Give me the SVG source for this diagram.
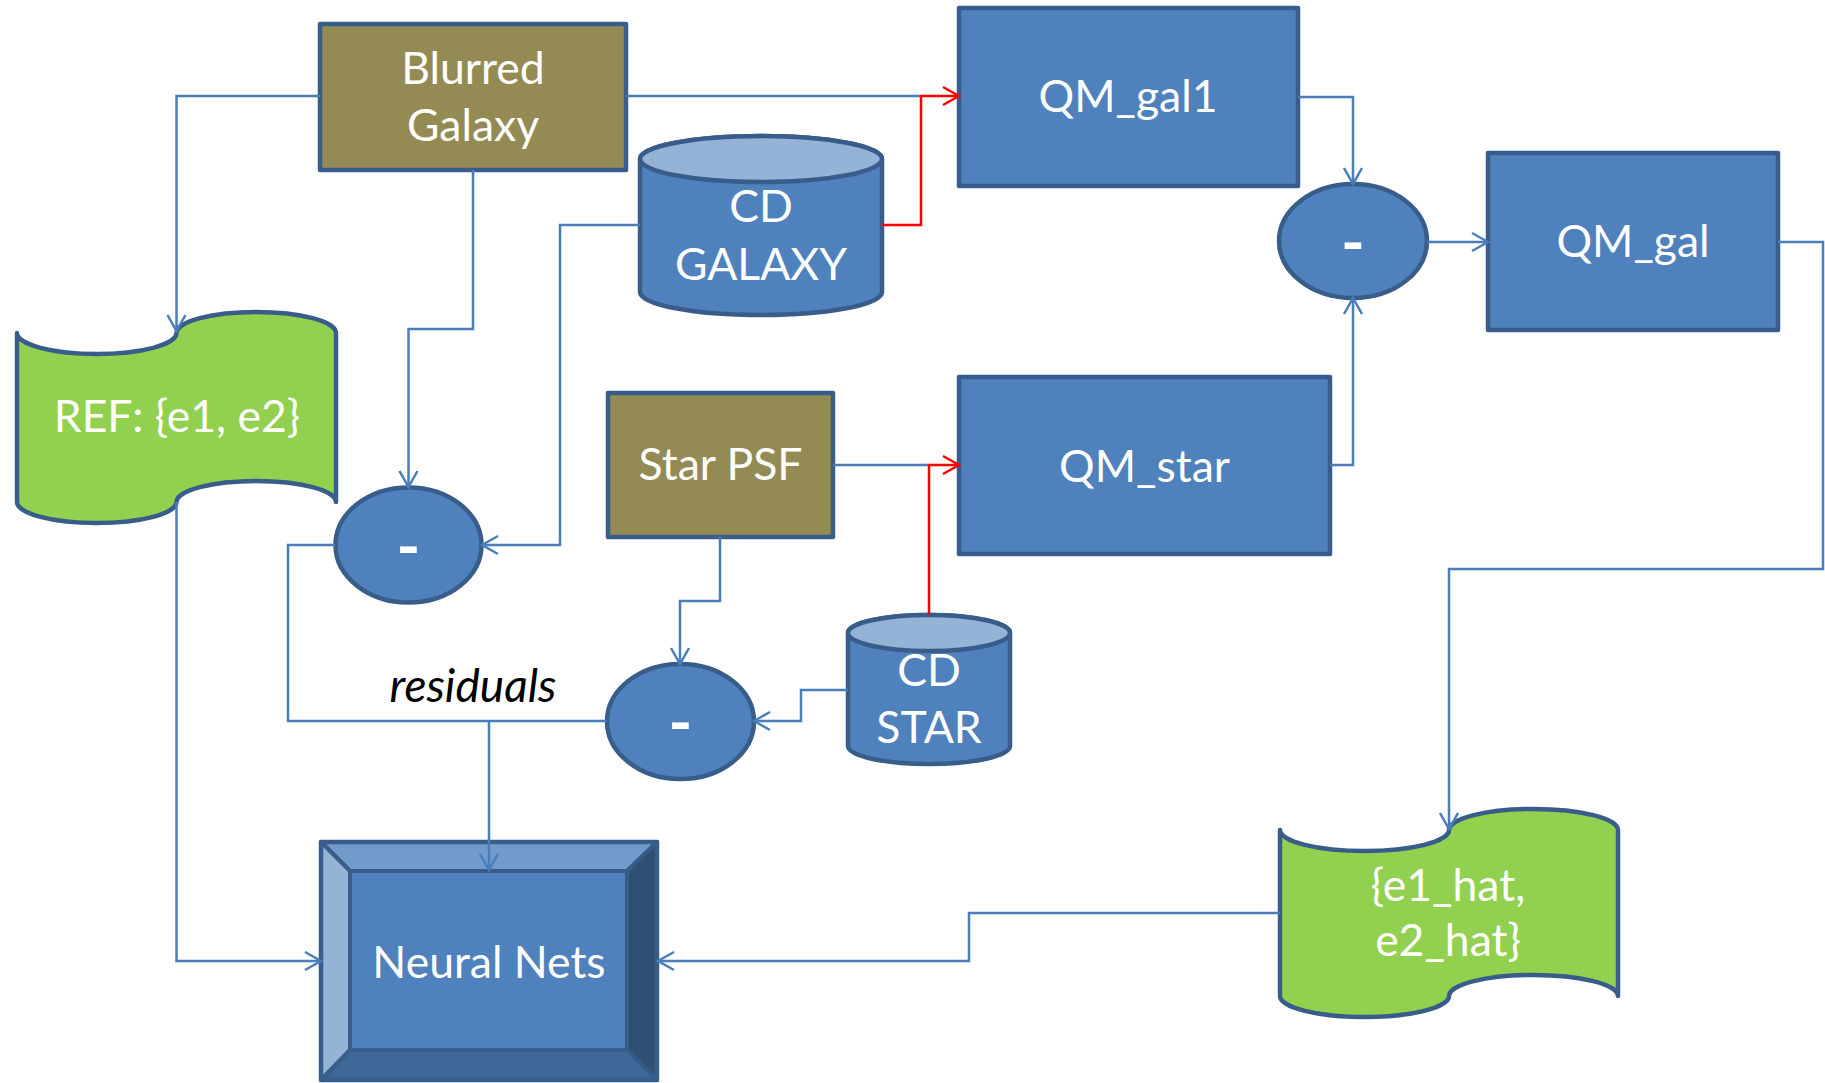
<svg xmlns="http://www.w3.org/2000/svg" width="1825" height="1083" viewBox="0 0 1825 1083">
<style>
.blue{fill:#4F81BD;stroke:#385D8A;stroke-width:4.5;stroke-linejoin:round}
.olive{fill:#948A54;stroke:#385D8A;stroke-width:4.5;stroke-linejoin:round}
.green{fill:#92D050;stroke:#385D8A;stroke-width:4.5;stroke-linejoin:round}
.lid{fill:#95B3D7;stroke:#385D8A;stroke-width:4.5}
.t{font-family:Lato,"Open Sans","Liberation Sans",sans-serif;font-size:44.5px;fill:#FFFFFF;text-anchor:middle}
.m{font-family:Lato,"Liberation Sans",sans-serif;font-size:64px;font-weight:bold;fill:#FFFFFF;text-anchor:middle}
.c{fill:none;stroke:#4A7EBB;stroke-width:2.5}
.r{fill:none;stroke:#FF0000;stroke-width:2.5}
</style>
<defs>
<marker id="ab" markerUnits="userSpaceOnUse" markerWidth="20" markerHeight="22" viewBox="0 0 20 22" refX="18" refY="11" orient="auto">
<path d="M2,2 L18,11 L2,20" fill="none" stroke="#4A7EBB" stroke-width="2.5"/>
</marker>
<marker id="ar" markerUnits="userSpaceOnUse" markerWidth="20" markerHeight="22" viewBox="0 0 20 22" refX="18" refY="11" orient="auto">
<path d="M2,2 L18,11 L2,20" fill="none" stroke="#FF0000" stroke-width="2.5"/>
</marker>
</defs>

<g id="blurred-galaxy">
<rect class="olive" x="320" y="24" width="306" height="146"/>
<text class="t" x="473" y="84">Blurred</text>
<text class="t" x="473" y="141">Galaxy</text>
</g>

<g id="cd-galaxy">
<path class="blue" d="M640,159 V292 A121,23 0 0 0 882,292 V159 A121,23 0 0 0 640,159 Z"/>
<ellipse class="lid" cx="761" cy="159" rx="121" ry="23"/>
<text class="t" x="761" y="222">CD</text>
<text class="t" x="761" y="280">GALAXY</text>
</g>

<g id="qm-gal1">
<rect class="blue" x="959" y="8" width="339" height="178"/>
<text class="t" x="1128" y="112">QM_gal1</text>
</g>

<g id="minus-top">
<ellipse class="blue" cx="1353" cy="241" rx="74" ry="57"/>
<text class="m" x="1353" y="265">-</text>
</g>

<g id="qm-gal">
<rect class="blue" x="1488" y="153" width="290" height="177"/>
<text class="t" x="1633" y="257">QM_gal</text>
</g>

<g id="star-psf">
<rect class="olive" x="608" y="393" width="225" height="144"/>
<text class="t" x="720.5" y="480">Star PSF</text>
</g>

<g id="qm-star">
<rect class="blue" x="959" y="377" width="371" height="177"/>
<text class="t" x="1144.5" y="482">QM_star</text>
</g>

<g id="ref">
<path class="green" d="M17,333 A79.75,21 0 0 0 176.5,333 A79.75,21 0 0 1 336,333 V502 A79.75,21 0 0 0 176.5,502 A79.75,21 0 0 1 17,502 Z"/>
<text class="t" x="177" y="432">REF: {e1, e2}</text>
</g>

<g id="minus-left">
<ellipse class="blue" cx="408.5" cy="545" rx="73" ry="57.5"/>
<text class="m" x="408.5" y="569">-</text>
</g>

<g id="minus-mid">
<ellipse class="blue" cx="680.5" cy="721.5" rx="73.5" ry="57.5"/>
<text class="m" x="680.5" y="745">-</text>
</g>

<g id="cd-star">
<path class="blue" d="M848,633 V746 A81,18 0 0 0 1010,746 V633 A81,18 0 0 0 848,633 Z"/>
<ellipse class="lid" cx="929" cy="633" rx="81" ry="18"/>
<text class="t" x="929" y="686">CD</text>
<text class="t" x="929" y="743">STAR</text>
</g>

<text id="residuals" x="473" y="702" font-family="Lato,'Open Sans','Liberation Sans',sans-serif" font-size="46" font-style="italic" fill="#000000" text-anchor="middle">residuals</text>

<g id="neural-nets">
<rect x="321" y="842" width="336" height="238" fill="#4F81BD"/>
<polygon points="321,842 657,842 627,871 350,871" fill="#729ACA" stroke="#385D8A" stroke-width="4" stroke-linejoin="round"/>
<polygon points="321,842 350,871 350,1050 321,1080" fill="#95B3D7" stroke="#385D8A" stroke-width="4" stroke-linejoin="round"/>
<polygon points="657,842 657,1080 627,1050 627,871" fill="#2F4F73" stroke="#385D8A" stroke-width="4" stroke-linejoin="round"/>
<polygon points="321,1080 350,1050 627,1050 657,1080" fill="#3F6797" stroke="#385D8A" stroke-width="4" stroke-linejoin="round"/>
<rect x="350" y="871" width="277" height="179" fill="#4F81BD" stroke="#385D8A" stroke-width="4"/>
<rect x="321" y="842" width="336" height="238" fill="none" stroke="#385D8A" stroke-width="4.5" stroke-linejoin="round"/>
<text class="t" x="489" y="978">Neural Nets</text>
</g>

<g id="e-hat">
<path class="green" d="M1280,830 A84.5,21 0 0 0 1449,830 A84.5,21 0 0 1 1618,830 V996 A84.5,21 0 0 0 1449,996 A84.5,21 0 0 1 1280,996 Z"/>
<text class="t" x="1448" y="901">{e1_hat,</text>
<text class="t" x="1448" y="956">e2_hat}</text>
</g>

<g id="connectors">
<path class="c" d="M320,96 H176.5 V331" marker-end="url(#ab)"/>
<path class="c" d="M473,170 V329 H408.5 V487" marker-end="url(#ab)"/>
<path class="c" d="M626,96 H921"/>
<path class="c" d="M640,225 H560 V545 H482" marker-end="url(#ab)"/>
<path class="c" d="M335,545 H288 V721 H607"/>
<path class="c" d="M489,721 V870" marker-end="url(#ab)"/>
<path class="c" d="M720,537 V601 H680 V664" marker-end="url(#ab)"/>
<path class="c" d="M848,690 H801 V721 H754" marker-end="url(#ab)"/>
<path class="c" d="M833,465 H929"/>
<path class="c" d="M1298,97 H1353 V184" marker-end="url(#ab)"/>
<path class="c" d="M1330,465 H1353 V298" marker-end="url(#ab)"/>
<path class="c" d="M1427,242 H1488" marker-end="url(#ab)"/>
<path class="c" d="M1778,242 H1823 V569 H1449 V829" marker-end="url(#ab)"/>
<path class="c" d="M1280,913 H969 V961 H658" marker-end="url(#ab)"/>
<path class="c" d="M176.5,502 V961 H321" marker-end="url(#ab)"/>
<path class="r" d="M882,225 H921 V96 H959" marker-end="url(#ar)"/>
<path class="r" d="M929,615 V465 H959" marker-end="url(#ar)"/>
</g>
</svg>
